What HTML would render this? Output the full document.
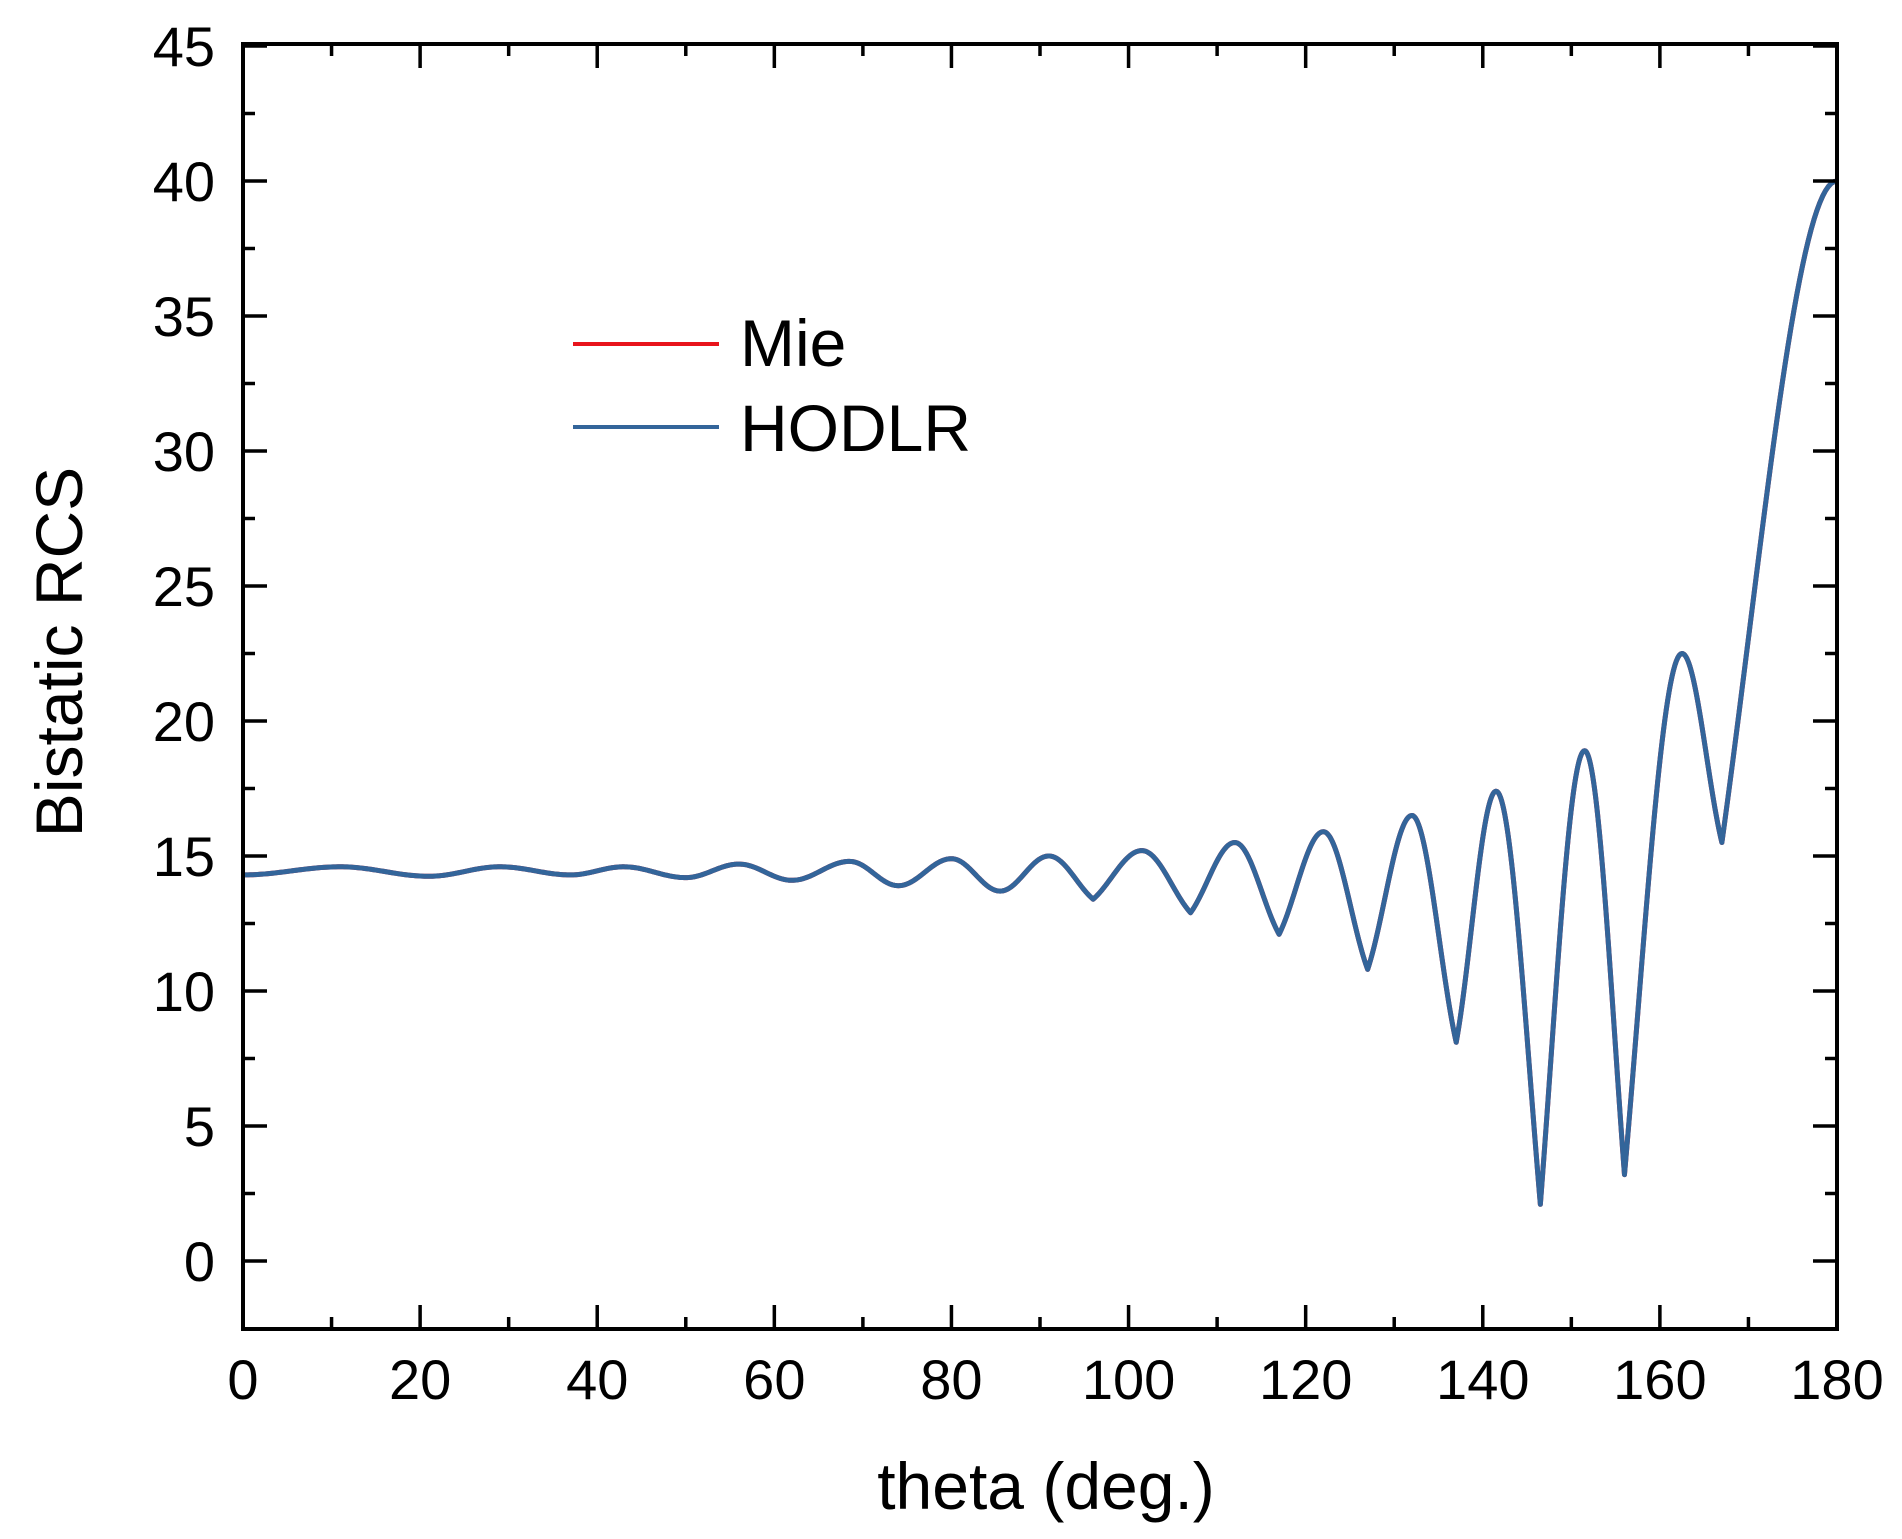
<!DOCTYPE html>
<html><head><meta charset="utf-8"><title>Bistatic RCS</title>
<style>html,body{margin:0;padding:0;background:#fff;}svg{display:block;font-family:"Liberation Sans",Arial,sans-serif;}</style>
</head><body>
<svg id="chart" width="1902" height="1539" viewBox="0 0 1902 1539" xmlns="http://www.w3.org/2000/svg">
<g id="plot"></g>
</svg>
<script>
const xTicks=[0,20,40,60,80,100,120,140,160,180];
const yTicks=[0,5,10,15,20,25,30,35,40,45];
const mieTheta=[0,11,21,29,37,43,50,56,62,68.5,74,80,85.5,91,96,101.5,107,112,117,122,127,132,137,141.5,146.5,151.5,156,162.5,167,180];
const mieValue=[14.3,14.6,14.25,14.6,14.3,14.6,14.2,14.7,14.1,14.8,13.9,14.9,13.7,15.0,13.4,15.2,12.9,15.5,12.1,15.9,10.8,16.5,8.1,17.4,2.1,18.9,3.2,22.5,15.5,40.0];
const hodlrTheta=[0,11,21,29,37,43,50,56,62,68.5,74,80,85.5,91,96,101.5,107,112,117,122,127,132,137,141.5,146.5,151.5,156,162.5,167,180];
const hodlrValue=[14.3,14.6,14.25,14.6,14.3,14.6,14.2,14.7,14.1,14.8,13.9,14.9,13.7,15.0,13.4,15.2,12.9,15.5,12.1,15.9,10.8,16.5,8.1,17.4,2.1,18.9,3.2,22.5,15.5,40.0];

const L=243,R=1837,T=44,B=1329;
function sx(v){return L+(v-0)/180*(R-L);}
function sy(v){return 1261-v*27.0;}
const NS="http://www.w3.org/2000/svg";
const g=document.getElementById('plot');
function el(t,a){const e=document.createElementNS(NS,t);for(const k in a)e.setAttribute(k,a[k]);g.appendChild(e);return e;}

function pathFor(th,va){
  let d="M"+sx(th[0]).toFixed(2)+","+sy(va[0]).toFixed(2);
  for(let i=0;i<th.length-1;i++){
    const a=va[i],b=va[i+1],amp=Math.abs(b-a);
    const k=amp<1.5?0:(amp>10?0.8:0.55);
    for(let s=1;s<=40;s++){
      const f=s/40;
      const wc=(1-Math.cos(Math.PI*f))/2;
      const ws=b<a?1-Math.cos(Math.PI*f/2):Math.sin(Math.PI*f/2);
      const w=(1-k)*wc+k*ws;
      const x=th[i]+(th[i+1]-th[i])*f, y=a+(b-a)*w;
      d+=" L"+sx(x).toFixed(2)+","+sy(y).toFixed(2);
    }
  }
  return d;
}
const p1=el('path',{d:pathFor(mieTheta,mieValue),fill:'none',stroke:'#e8141c','stroke-width':5,'stroke-linejoin':'round'});


const p2=el('path',{d:pathFor(hodlrTheta,hodlrValue),fill:'none',stroke:'#33659a','stroke-width':5,'stroke-linejoin':'round'});



const fr=el('rect',{x:L,y:T,width:R-L,height:B-T,fill:'none',stroke:'#000','stroke-width':4});



for(let v=0;v<=180;v+=10){
  const major=v%20===0, len=major?24:12, x=sx(v);
  el('line',{x1:x,y1:B,x2:x,y2:B-len,stroke:'#000','stroke-width':3.5});
  el('line',{x1:x,y1:T,x2:x,y2:T+len,stroke:'#000','stroke-width':3.5});
}
xTicks.forEach(v=>{
  const t=el('text',{x:sx(v),y:1399,'font-size':56,'text-anchor':'middle',fill:'#000'});
  t.textContent=v;
  
  
});
for(let v=0;v<=45;v+=2.5){
  const major=v%5===0, len=major?24:12, y=sy(v);
  el('line',{x1:L,y1:y,x2:L+len,y2:y,stroke:'#000','stroke-width':3.5});
  el('line',{x1:R,y1:y,x2:R-len,y2:y,stroke:'#000','stroke-width':3.5});
}
yTicks.forEach(v=>{
  const t=el('text',{x:215,y:sy(v)+20,'font-size':56,'text-anchor':'end',fill:'#000'});
  t.textContent=v;
  
  
});
const xt=el('text',{x:1046,y:1509,'font-size':66,'text-anchor':'middle',fill:'#000'});
xt.textContent='theta (deg.)';


const yt=el('text',{x:0,y:0,'font-size':66,'text-anchor':'middle',fill:'#000',transform:'translate(82,652) rotate(-90)'});
yt.textContent='Bistatic RCS';



const l1=el('line',{x1:573,y1:344,x2:719,y2:344,stroke:'#e8141c','stroke-width':4});


const t1=el('text',{x:740,y:366,'font-size':66,fill:'#000'});
t1.textContent='Mie';


const l2=el('line',{x1:573,y1:427,x2:719,y2:427,stroke:'#33659a','stroke-width':4});


const t2=el('text',{x:740,y:451,'font-size':66,fill:'#000'});
t2.textContent='HODLR';


</script>
</body></html>
